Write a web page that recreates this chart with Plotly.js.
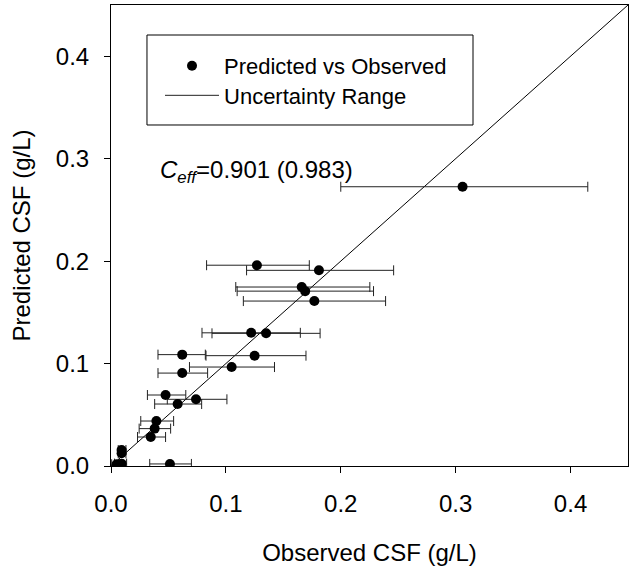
<!DOCTYPE html>
<html>
<head>
<meta charset="utf-8">
<script src="https://cdn.plot.ly/plotly-3.0.1.min.js"></script>
<style>html,body{margin:0;padding:0;background:#fff;}#chart{width:633px;height:569px;}</style>
</head>
<body>
<div id="chart"></div>
<script>
// Observed CSF (g/L)
var observed = [0.306, 0.127, 0.181, 0.166, 0.169, 0.177, 0.122, 0.135, 0.062, 0.125, 0.105, 0.062, 0.0475, 0.074, 0.058, 0.0395, 0.038, 0.0346, 0.0092, 0.0092, 0.0049, 0.0092, 0.0513];
// Predicted CSF (g/L)
var predicted = [0.2726, 0.196, 0.191, 0.1747, 0.1707, 0.161, 0.130, 0.1295, 0.1087, 0.1077, 0.0966, 0.0907, 0.0693, 0.0651, 0.0605, 0.0439, 0.0365, 0.0283, 0.0156, 0.0124, 0.0017, 0.0023, 0.002];
// Uncertainty range (low / high observed bounds)
var rangeLow = [0.200, 0.0832, 0.118, 0.1086, 0.1098, 0.1152, 0.0792, 0.0879, 0.0409, 0.0827, 0.0683, 0.0409, 0.0317, 0.049, 0.038, 0.0259, 0.0245, 0.0231, 0.0063, 0.0063, 0.0006, 0.003, 0.0337];
var rangeHigh = [0.415, 0.1726, 0.246, 0.2253, 0.2285, 0.239, 0.1648, 0.182, 0.0821, 0.1697, 0.1423, 0.0841, 0.0651, 0.1009, 0.0789, 0.0545, 0.0519, 0.0475, 0.013, 0.013, 0.0097, 0.0136, 0.070];
// 1:1 line
var identityX = [0, 0.45];
var identityY = [0, 0.45];
var tickVals = [0, 0.1, 0.2, 0.3, 0.4];
var tickText = ['0.0', '0.1', '0.2', '0.3', '0.4'];

var errPlus = observed.map(function(v, i){ return rangeHigh[i] - v; });
var errMinus = observed.map(function(v, i){ return v - rangeLow[i]; });

var FONT = 'Liberation Sans, Arial, sans-serif';

var traces = [
  {
    x: identityX, y: identityY, mode: 'lines', type: 'scatter',
    line: {color: '#000', width: 1}, showlegend: false, hoverinfo: 'skip'
  },
  {
    x: observed, y: predicted, mode: 'markers', type: 'scatter',
    name: 'Predicted vs Observed', legend: 'legend',
    marker: {color: '#000', size: 10},
    error_x: {type: 'data', symmetric: false, array: errPlus, arrayminus: errMinus,
              color: '#222', thickness: 1, width: 5}
  },
  {
    x: [null], y: [null], mode: 'lines', type: 'scatter',
    name: 'Uncertainty Range', legend: 'legend2',
    line: {color: '#222', width: 1}
  }
];

var axisBase = {
  range: [0, 0.45], showgrid: false, zeroline: false,
  showline: true, linecolor: '#000', linewidth: 1, mirror: true,
  ticks: 'outside', ticklen: 6, tickwidth: 1, tickcolor: '#000',
  tickvals: tickVals, ticktext: tickText,
  tickfont: {family: FONT, size: 24, color: '#000'},
  ticklabelstandoff: 10
};

var legendBase = {
  xanchor: 'left', yanchor: 'top',
  borderwidth: 0, bgcolor: 'rgba(0,0,0,0)',
  font: {family: FONT, size: 22, color: '#000'},
  itemwidth: 54
};

var layout = {
  width: 633, height: 569,
  margin: {l: 111, r: 5, t: 5, b: 103},
  paper_bgcolor: '#fff', plot_bgcolor: '#fff',
  font: {family: FONT, color: '#000'},
  xaxis: Object.assign({}, axisBase, {
    title: {text: 'Observed CSF (g/L)', font: {family: FONT, size: 24, color: '#000'}, standoff: 28}
  }),
  yaxis: Object.assign({}, axisBase, {
    title: {text: 'Predicted CSF (g/L)', font: {family: FONT, size: 24, color: '#000'}, standoff: 18}
  }),
  showlegend: true,
  legend: Object.assign({}, legendBase, {x: 0.0948, y: 0.9132}),
  legend2: Object.assign({}, legendBase, {x: 0.0948, y: 0.8492}),
  shapes: [{
    type: 'rect', xref: 'paper', yref: 'paper',
    x0: 0.0696, x1: 0.7002, y0: 0.7397, y1: 0.9349,
    line: {color: '#000', width: 1}, fillcolor: 'rgba(0,0,0,0)', layer: 'above'
  }],
  annotations: [{
    x: 0.041, y: 0.287, xref: 'x', yref: 'y', xanchor: 'left', yanchor: 'middle',
    showarrow: false,
    text: '<i>C</i><sub><i>eff</i></sub>=0.901 (0.983)',
    font: {family: FONT, size: 24, color: '#000'}
  }]
};

Plotly.newPlot('chart', traces, layout, {displayModeBar: false, staticPlot: true});
</script>
</body>
</html>
